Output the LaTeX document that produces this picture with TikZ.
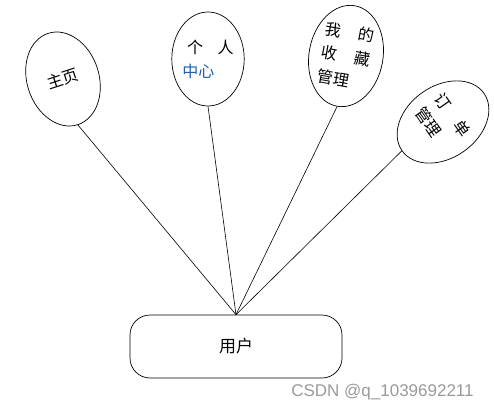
\documentclass[tikz,border=0pt]{standalone}
\usepackage{fontspec}
\setmainfont{Liberation Sans}
\newfontfamily\cjk{Noto Sans CJK SC}
\usetikzlibrary{shapes.geometric, positioning}
\definecolor{linkblue}{HTML}{1F5FAD}
\definecolor{markgray}{HTML}{9A9A9A}
\tikzset{
  bubble/.style={
    ellipse, draw=black, line width=0.7pt, fill=white,
    minimum width=72pt, minimum height=96pt, inner sep=0pt,
    align=left, font=\cjk\fontsize{16}{24}\selectfont
  },
  userbox/.style={
    rectangle, rounded corners=20pt, draw=black, line width=0.7pt,
    minimum width=212pt, minimum height=63pt,
    font=\cjk\fontsize{17}{19}\selectfont
  },
  link/.style={draw=black, line width=0.6pt}
}
\begin{document}
\begin{tikzpicture}[x=1pt, y=-1pt]
    \useasboundingbox (0,0) rectangle (494,411);

    % Funciones
    \node[bubble, rotate=18] (home) at (63,79) {主页};
    \node[bubble, minimum height=94pt] (center) at (208,59)
      {\hspace{0.3em}个\hspace{0.9em}人\\\textcolor{linkblue}{中心}};
    \node[bubble, rotate=-10, minimum width=74pt, minimum height=102pt] (fav) at (346,56)
      {我\hspace{1.1em}的\\收\hspace{1.1em}藏\\管理};
    \node[bubble, rotate=-55, minimum height=100pt] (order) at (443,122)
      {订\hspace{1.1em}单\\管理};

    % Usuario
    \node[userbox] (user) at (236,346.5) {用户};

    % Conexiones
    \foreach \s in {home, center, fav, order}{%
      \draw[link] (\s.south) -- (user.north);}

    % Marca
    \node[text=markgray, font=\fontsize{17}{19}\selectfont] (mark) at (382.5,392)
      {CSDN @q\_1039692211};
\end{tikzpicture}
\end{document}
